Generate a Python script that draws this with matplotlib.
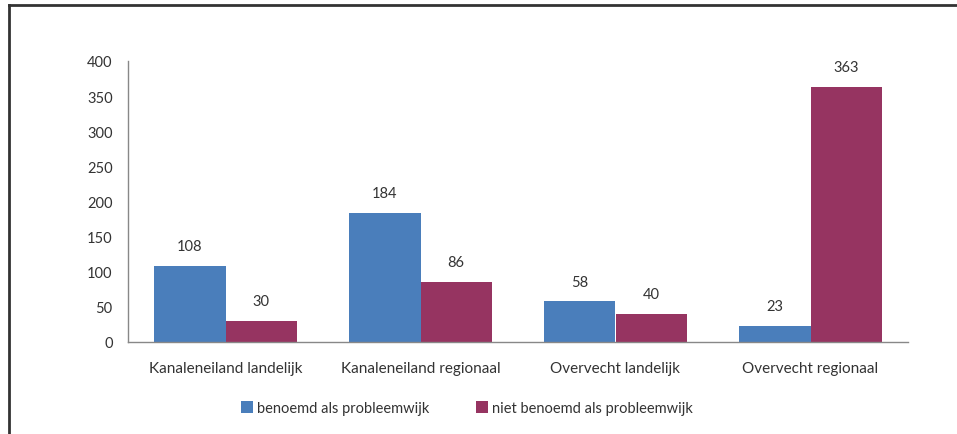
import matplotlib.pyplot as plt
import numpy as np
from matplotlib.lines import Line2D

categories = ["Kanaleneiland landelijk", "Kanaleneiland regionaal", "Overvecht landelijk", "Overvecht regionaal"]
series_names = ["benoemd als probleemwijk", "niet benoemd als probleemwijk"]
benoemd = [108, 184, 58, 23]
niet_benoemd = [30, 86, 40, 363]
yticks = [0, 50, 100, 150, 200, 250, 300, 350, 400]

plt.rcParams['font.family'] = ['Lato', 'DejaVu Sans']
fig = plt.figure(figsize=(9.57, 4.35), dpi=100)
ax = fig.add_axes([128/957, 1-343/435, (908-128)/957, (343-62)/435])

x = np.arange(len(categories))
w = 0.365
colors = ["#4A7EBB", "#963461"]
b1 = ax.bar(x - w/2, benoemd, w, color=colors[0], label=series_names[0])
b2 = ax.bar(x + w/2, niet_benoemd, w, color=colors[1], label=series_names[1])
for bars, vals in ((b1, benoemd), (b2, niet_benoemd)):
    for r, v in zip(bars, vals):
        ax.text(r.get_x() + r.get_width()/2, v + 18, str(v), ha='center', va='bottom', fontsize=10.5, color='#333333')

ax.set_xlim(-0.5, len(categories) - 0.5)
ax.set_ylim(0, 400)
ax.set_yticks(yticks)
ax.set_xticks(x)
ax.set_xticklabels(categories, fontsize=11)
ax.tick_params(axis='both', length=0, colors='#333333')
ax.tick_params(axis='y', labelsize=10.5, pad=11)
ax.tick_params(axis='x', pad=14)
for s in ['top', 'right']:
    ax.spines[s].set_visible(False)
for s in ['left', 'bottom']:
    ax.spines[s].set_color('#888888')
    ax.spines[s].set_linewidth(1)

fig.legend(handles=[b1, b2], labels=series_names, loc='center', bbox_to_anchor=(467/957, 1-409/435),
           ncol=2, frameon=False, fontsize=10.5, handlelength=0.8, handleheight=0.8, columnspacing=3.2, handletextpad=0.3,
           labelcolor='#333333')

# outer frame (top and left edges)
fig.add_artist(Line2D([9/957, 1], [1-6/435, 1-6/435], transform=fig.transFigure, color='#333333', lw=2))
fig.add_artist(Line2D([9/957, 9/957], [0, 1-6/435], transform=fig.transFigure, color='#333333', lw=2))

fig.savefig("out.png", dpi=100)
